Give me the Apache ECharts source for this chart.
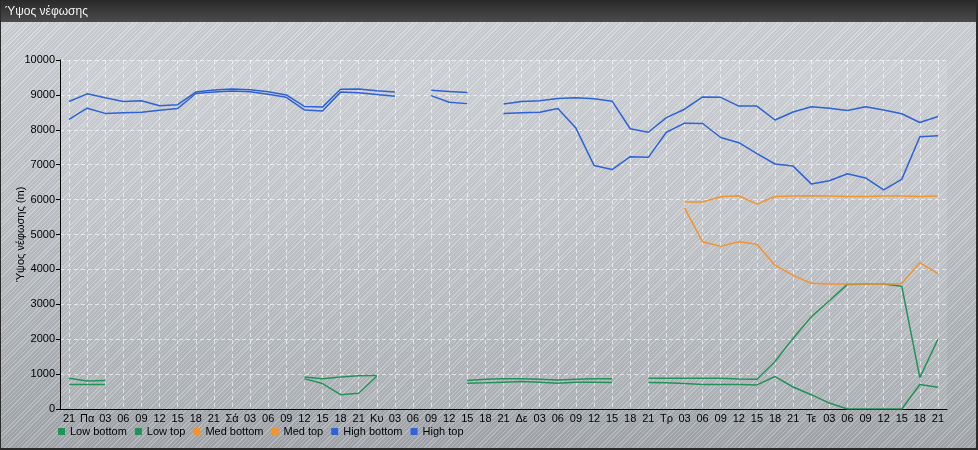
<!DOCTYPE html>
<html>
<head>
<meta charset="utf-8">
<script src="https://cdn.jsdelivr.net/npm/echarts@6/dist/echarts.min.js"></script>
<style>
  html, body { margin: 0; padding: 0; }
  #chart {
    width: 978px; height: 450px; box-sizing: border-box;
    border: 1px solid #2a2a2a; border-right-width: 2px; border-bottom-width: 2px;
    background:
      repeating-linear-gradient(135deg, rgba(255,255,255,0.20) 0px, rgba(255,255,255,0.20) 1px, rgba(0,0,0,0.04) 1px, rgba(0,0,0,0.04) 3px),
      linear-gradient(to bottom, #d0d4d9 0%, #bec2c7 50%, #a3a8ad 100%);
  }
</style>
</head>
<body>
<div id="chart"></div>
<script>
const categories = ['21','Πα','03','06','09','12','15','18','21','Σά','03','06','09','12','15','18','21','Κυ','03','06','09','12','15','18','21','Δε','03','06','09','12','15','18','21','Τρ','03','06','09','12','15','18','21','Τε','03','06','09','12','15','18','21'];

const lowBottom = [700,700,700,null,null,null,null,null,null,null,null,null,null,870,730,410,450,940,null,null,null,null,740,750,770,790,770,740,770,770,760,null,760,750,730,700,700,700,690,930,630,410,170,0,0,0,0,700,620];
const lowTop = [880,800,820,null,null,null,null,null,null,null,null,null,null,920,870,920,950,960,null,null,null,null,820,850,870,870,850,830,850,870,870,null,880,880,880,880,880,860,850,1360,2030,2640,3100,3570,3580,3580,3520,900,2000];
const medBottom = [null,null,null,null,null,null,null,null,null,null,null,null,null,null,null,null,null,null,null,null,null,null,null,null,null,null,null,null,null,null,null,null,null,null,5760,4790,4660,4790,4720,4120,3830,3600,3580,3580,3580,3580,3590,4190,3880];
const medTop = [null,null,null,null,null,null,null,null,null,null,null,null,null,null,null,null,null,null,null,null,null,null,null,null,null,null,null,null,null,null,null,null,null,null,5930,5930,6080,6110,5870,6090,6100,6110,6100,6090,6090,6100,6100,6090,6100];
const highBottom = [8300,8620,8470,8490,8500,8560,8610,9040,9080,9110,9090,9020,8930,8570,8540,9080,9060,9010,8960,null,8980,8790,8750,null,8470,8490,8500,8610,8050,6980,6860,7230,7210,7930,8190,8180,7780,7630,7320,7020,6960,6450,6540,6740,6620,6280,6580,7800,7830];
const highTop = [8810,9030,8920,8810,8830,8690,8720,9080,9140,9170,9150,9090,9000,8670,8650,9160,9170,9120,9080,null,9130,9100,9070,null,8740,8810,8830,8900,8920,8890,8820,8030,7930,8350,8590,8940,8930,8680,8680,8280,8510,8660,8620,8550,8660,8570,8460,8210,8380];

const seriesNames = ['Low bottom','Low top','Med bottom','Med top','High bottom','High top'];
const seriesData = [lowBottom, lowTop, medBottom, medTop, highBottom, highTop];
const seriesColors = ['#23925a','#23925a','#f4922e','#f4922e','#2d62d8','#2d62d8'];

const chart = echarts.init(document.getElementById('chart'), null, {renderer: 'canvas'});
const font = '"Liberation Sans", Arial, sans-serif';

chart.setOption({
  animation: false,
  textStyle: { fontFamily: font },
  graphic: [{
    type: 'rect', z: 0, silent: true,
    shape: { x: 0, y: 0, width: 978, height: 21 },
    style: { fill: new echarts.graphic.LinearGradient(0, 0, 0, 1, [
      { offset: 0, color: '#2b2b2b' }, { offset: 1, color: '#4b4b4b' }]) }
  }],
  title: {
    text: 'Ύψος νέφωσης', left: 2, top: 4, padding: [1, 2],
    textStyle: { color: '#f2f2f2', fontSize: 12, fontWeight: 'normal', fontFamily: font }
  },
  grid: {
    left: 59, right: 29, top: 59, bottom: 39, show: true,
    outerBoundsMode: 'none', containLabel: false,
    backgroundColor: 'rgba(255,255,255,0.10)', borderWidth: 0
  },
  legend: {
    left: 57, top: 425, itemWidth: 7, itemHeight: 7, itemGap: 8, icon: 'rect', padding: 0,
    data: seriesNames,
    textStyle: { fontSize: 11, color: '#000', fontFamily: font }
  },
  xAxis: {
    type: 'category', data: categories, boundaryGap: true,
    axisLine: { lineStyle: { color: '#000', width: 1 } },
    axisTick: { alignWithLabel: true, length: 4, lineStyle: { color: '#000' } },
    axisLabel: { interval: 0, color: '#000', fontSize: 11, margin: 4, fontFamily: font, hideOverlap: false },
    splitLine: { show: true, alignWithLabel: true, lineStyle: { color: 'rgba(255,255,255,0.6)', type: [4, 3], width: 1 } }
  },
  yAxis: {
    type: 'value', min: 0, max: 10000, interval: 1000,
    name: 'Ύψος νέφωσης (m)', nameLocation: 'middle', nameGap: 34, nameMoveOverlap: false,
    nameTextStyle: { color: '#000', fontSize: 11, fontFamily: font },
    axisLine: { show: true, lineStyle: { color: '#000', width: 1 } },
    axisTick: { show: true, length: 4, lineStyle: { color: '#000' } },
    axisLabel: { color: '#000', fontSize: 11, margin: 5, fontFamily: font, formatter: v => String(v) },
    splitLine: { show: true, lineStyle: { color: 'rgba(255,255,255,0.6)', type: [4, 3], width: 1 } }
  },
  series: seriesNames.map((n, i) => ({
    name: n, type: 'line', data: seriesData[i], showSymbol: false, symbol: 'none',
    connectNulls: false,
    itemStyle: { color: seriesColors[i] },
    lineStyle: { color: seriesColors[i], width: 1.5 }
  }))
});
</script>
</body>
</html>
